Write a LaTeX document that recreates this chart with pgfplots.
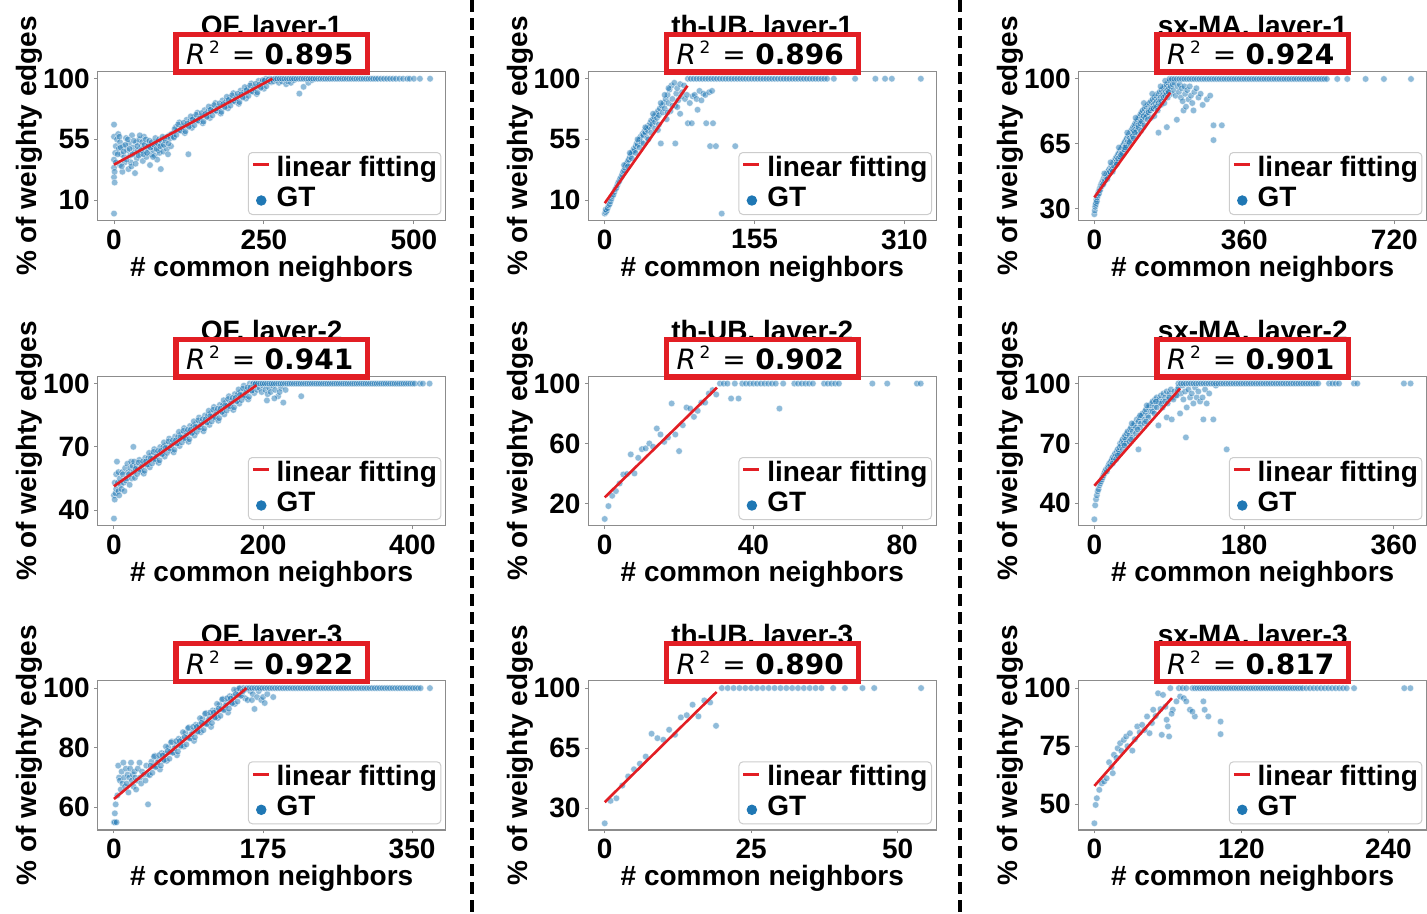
\documentclass[border=0pt]{standalone}
\usepackage{fontspec}
\setmainfont{Liberation Sans}
\newfontfamily\djv{DejaVu Sans}
\usepackage{pgfplots}
\pgfplotsset{compat=1.18}
\definecolor{tabblue}{RGB}{31,119,180}
\definecolor{fitred}{RGB}{226,30,36}
\newcommand{\bigbf}{\bfseries\fontsize{28}{32}\selectfont}
\newcommand{\rsq}[1]{{\itshape R}\kern3.5pt\raisebox{11pt}{\fontsize{17}{20}\selectfont 2}\kern12pt=\kern9.4pt{\bfseries #1}}
\pgfplotsset{
  panel/.style={
    clip marker paths=true,
    scale only axis, width=348pt, height=149.5pt, anchor=south west,
    axis line style={draw=black!45, line width=1.2pt},
    tick align=outside, major tick length=3.3pt, tick pos=left,
    tick style={draw=black!45, line width=1pt},
    tick label style={font=\bigbf},
    /pgf/number format/assume math mode=true,
    every x tick label/.append style={inner sep=0pt, yshift=-5.5pt},
    every y tick label/.append style={inner sep=0pt, xshift=-4.4pt},
    xlabel={\# common neighbors}, ylabel={\% of weighty edges},
    every axis x label/.style={at={(axis description cs:0.5,-0.37)}, anchor=base, inner sep=0pt, font=\bigbf},
    every axis y label/.style={at={(axis description cs:-0.1753,0.5)}, rotate=90, anchor=base, inner sep=0pt, font=\bigbf},
    legend style={at={(rel axis cs:1,0)}, anchor=south east, xshift=-4.3pt, yshift=5.7pt,
      draw=black!20, line width=1pt, rounded corners=4pt, fill=white,
      font=\bigbf, inner xsep=3pt, inner ysep=1pt,
      nodes={inner sep=1pt, text height=22pt, text depth=6pt},
      cells={anchor=base west}, row sep=0pt, column sep=5.5pt},
  },
  gt/.style={only marks, mark=*, mark size=3.3pt,
    mark options={fill=tabblue, fill opacity=0.5, draw=white, draw opacity=0.7, line width=0.4pt},
    legend image code/.code={\fill[tabblue] (8.5pt,6pt) circle (4.7pt); \path (0pt,0pt) (16pt,0pt);}},
  fit/.style={draw=fitred, line width=2.6pt, no marks,
    legend image code/.code={\draw[fitred, line width=2.8pt, sharp corners] (0pt,11.7pt) -- (16pt,11.7pt);}},
}
\newcommand{\decor}[3]{%
  \node[font=\bigbf, anchor=base] at ([yshift=36pt]#1.north) {#2};
  \node[draw=fitred, line width=5.3pt, fill=white, minimum width=191.7pt, minimum height=37.7pt, inner sep=0pt] (#1box) at ([yshift=18pt]#1.north) {};
  \node[anchor=base, font=\djv\fontsize{28}{32}\selectfont] at ([xshift=-2pt,yshift=-11.5pt]#1box.center) {\rsq{#3}};
}
\newcommand{\leg}{\addlegendimage{fit}\addlegendentry{linear fitting}\addlegendimage{gt}\addlegendentry{GT}}
\begin{document}
\begin{tikzpicture}
\useasboundingbox (0pt,0pt) rectangle (1427pt,-913pt);
% ---------------- Panel 1: OF layer-1
\begin{axis}[panel, name=a1, at={(97.7pt,-220.7pt)},
  xmin=-27.2, xmax=553, ymin=-5.3, ymax=105.6, xtick={0,250,500}, ytick={10,55,100}]
\leg
\addplot[gt, forget plot] coordinates {
(0,66) (0,57) (0,40) (0,27) (1,23) (0,0) (0,34) (2,45) (3,50) (1,31)
(5,55) (7,59) (8,48) (10,53) (10,36) (12,44) (14,31) (15,50) (17,42) (18,38) (20,56) (22,47) (24,33) (25,52) (27,43) (28,38) (30,58) (32,49) (34,45) (35,30) (37,53) (38,41) (40,47)
(42,55) (44,44) (46,50) (48,39) (50,57) (52,46) (54,42) (56,52) (58,48) (60,36) (62,44) (64,50) (66,47) (68,43) (70,53) (72,40) (74,47) (76,45) (78,33) (80,50) (82,46) (85,56) (88,48) (90,44) (92,58) (95,50) (98,59)
(3,38) (6,44) (9,57) (11,49) (13,35) (16,46) (19,51) (21,40) (23,55) (26,48) (29,35) (31,44) (33,54) (36,37) (39,50) (41,43) (43,58) (45,47) (47,53) (49,44) (51,51) (53,55) (55,45) (57,50) (59,54) (61,49) (63,53) (65,42) (67,51) (69,56) (71,48) (73,52) (75,55) (77,50) (79,54) (81,57) (83,51) (86,54) (89,57) (91,52) (94,56) (96,59) (99,57)
(100,56.4) (103,64.1) (106,61.8) (109,67.6) (112,61.3) (115,65.0) (118,59.7) (121,69.5) (124,65.2) (127,68.9)
(130,63.6) (133,71.4) (136,69.1) (139,74.8) (142,68.5) (145,72.2) (148,67.0) (151,76.7) (154,72.4) (157,76.1)
(160,70.9) (163,78.6) (166,76.3) (169,82.0) (172,75.8) (175,79.5) (178,74.2) (181,83.9) (184,79.6) (187,83.4)
(190,78.1) (193,85.8) (196,83.5) (199,89.3) (202,83.0) (205,86.7) (208,81.4) (211,91.2) (214,86.9) (217,90.6)
(220,85.3) (223,93.0) (226,90.8) (229,96.5) (232,90.2) (235,93.9) (238,88.7) (241,98.4) (244,94.1) (247,97.8)
(250,92.6) (253,100) (256,98.0) (259,100) (262,97.4)
(101,62.6) (104,58.4) (107,66.1) (110,61.8) (113,63.5) (116,67.3) (119,61.0) (122,66.7) (125,64.4) (128,72.1)
(131,69.9) (134,65.6) (137,73.3) (140,69.0) (143,70.8) (146,74.5) (149,68.2) (152,73.9) (155,71.7) (158,79.4)
(161,77.1) (164,72.8) (167,80.5) (170,76.3) (173,78.0) (176,81.7) (179,75.4) (182,81.2) (185,78.9) (188,86.6)
(191,84.3) (194,80.1) (197,87.8) (200,83.5) (203,85.2) (206,88.9) (209,82.7) (212,88.4) (215,86.1) (218,93.8)
(221,91.6) (224,87.3) (227,95.0) (230,90.7) (233,92.5) (236,96.2) (239,89.9) (242,95.6) (245,93.3) (248,99)
(251,98.8) (254,94.5) (257,99.2) (260,98) (263,99.7)
(124,44) (266,98) (270,99) (275,97) (280,98) (287,96) (290,98) (295,97) (300,99) (309,89) (316,94) (324,97) (330,99)
(268,100) (272,100) (276,100) (280,100) (284,100) (288,100) (292,100) (296,100) (300,100) (304,100) (308,100) (312,100) (316,100) (320,100) (324,100) (328,100) (332,100) (336,100) (340,100) (344,100) (348,100) (352,100) (356,100) (360,100) (364,100) (368,100) (372,100) (376,100) (380,100) (384,100) (388,100) (392,100) (396,100) (400,100) (404,100) (408,100) (412,100) (416,100) (420,100) (424,100) (428,100) (432,100) (436,100) (440,100) (445,100) (450,100) (455,100) (460,100) (465,100) (470,100) (476,100) (482,100) (489,100) (493,100) (500,100) (510,100) (527,100)
};
\addplot[fit, forget plot] coordinates {(0,36.3) (264,100)};
\end{axis}
\decor{a1}{OF, layer-1}{0.895}
% ---------------- Panel 2: th-UB layer-1
\begin{axis}[panel, name=a2, at={(588.3pt,-220.7pt)},
  xmin=-17, xmax=343, ymin=-5.3, ymax=105.6, xtick={0,155,310}, ytick={10,55,100}]
\leg
\addplot[gt, forget plot] coordinates {
(0,0) (1,1) (2,2) (1,3) (3,4) (4,6) (5,7) (6,9) (7,11) (8,13) (9,14) (10,16) (11,18) (12,19) (13,21) (14,23) (15,24) (16,26) (17,27) (18,29) (19,31) (20,32) (21,34) (22,36) (23,37) (24,39) (25,40) (26,42) (27,44) (28,45) (29,46) (30,48) (31,47) (32,50) (33,52) (34,51) (35,54) (36,55) (37,57) (38,53) (39,59) (40,58) (41,61) (42,60) (43,63) (44,62) (45,65) (46,64) (47,67) (48,69) (49,66) (50,70) (51,72) (52,68) (53,74) (54,71) (55,76) (56,73) (57,78) (58,52) (59,80) (60,75) (61,82) (62,78) (63,85) (64,70) (65,88) (66,82) (67,92) (68,76) (69,95) (70,85) (72,97) (73,80) (74,89) (75,93) (76,84) (78,96) (79,87) (80,90) (82,95) (83,85) (85,88) (86,67) (88,82) (90,67) (91,87) (93,88) (95,85) (96,77) (98,91) (100,84) (102,89) (104,88) (105,67) (108,90) (109,50) (111,91) (112,67) (115,50) (121,0) (135,50) (73,52) (78,74) (75,79)
(20,36) (24,35) (28,41) (32,45) (36,49) (40,52) (44,56) (48,60) (52,63) (56,66) (26,45) (34,55) (42,64) (50,74) (58,82) (62,88) (66,93) (45,55) (55,62) (65,75) (70,80)
(86,100) (89,100) (92,100) (95,100) (98,100) (101,100) (104,100) (107,100) (110,100) (113,100) (116,100) (119,100) (122,100) (125,100) (128,100) (131,100) (134,100) (137,100) (140,100) (143,100) (146,100) (149,100) (152,100) (155,100) (158,100) (161,100) (164,100) (167,100) (170,100) (173,100) (176,100) (179,100) (182,100) (185,100) (188,100) (191,100) (194,100) (197,100) (200,100) (203,100) (206,100) (209,100) (212,100) (215,100) (218,100) (221,100) (224,100) (227,100) (230,100) (237,100) (259,100) (280,100) (290,100) (297,100) (327,100)
};
\addplot[fit, forget plot] coordinates {(0,7.7) (85.6,94.8)};
\end{axis}
\decor{a2}{th-UB, layer-1}{0.896}
% ---------------- Panel 3: sx-MA layer-1
\begin{axis}[panel, name=a3, at={(1078.7pt,-220.7pt)},
  xmin=-37.5, xmax=797.7, ymin=23.5, ymax=104.2, xtick={0,360,720}, ytick={30,65,100}]
\leg
\addplot[gt, forget plot] coordinates {
(0,27) (1,29) (2,31) (3,32) (4,33) (5,35) (6,34) (7,36) (8,37) (9,38) (10,39) (11,38) (12,40) (13,41) (14,40) (15,42) (16,43) (17,42) (18,44) (19,43) (20,45) (22,46) (23,44) (24,47) (26,46) (27,48) (28,47) (30,49) (32,48) (33,50) (35,51) (36,49) (38,52) (40,51) (41,53) (43,54) (45,52) (46,55) (48,56) (50,54) (51,57) (53,58) (55,56) (56,59) (58,60) (60,58) (61,61) (63,62) (65,60) (66,63) (68,64) (70,62) (71,65) (73,66) (75,64) (76,67) (78,68) (80,66) (81,69) (83,70) (85,68) (86,71) (88,72) (90,70) (91,73) (93,74) (95,72) (96,75) (98,76) (100,73) (101,77) (103,78) (105,75) (106,79) (108,80) (110,77) (111,81) (113,82) (115,79) (116,83) (118,74) (120,84) (122,81) (124,85) (126,82) (128,86) (130,83) (132,87) (134,84) (136,88) (138,85) (140,89) (142,86) (144,90) (146,87) (148,91) (150,88) (152,92) (154,71) (155,89) (157,93) (159,90) (161,94) (163,91) (165,95) (167,92) (169,96) (171,93) (173,97) (174,74) (175,94) (177,98) (179,95) (181,99) (183,96) (185,92) (188,97) (190,94) (192,98) (195,91) (198,78) (200,96) (203,93) (205,97) (208,90) (210,95) (212,88) (214,83) (216,96) (218,92) (220,85) (223,94) (226,89) (229,96) (232,91) (235,87) (238,83) (240,93) (245,95) (250,90) (255,92) (260,86) (270,89) (278,91) (286,75) (286,67) (306,75)
(102,72) (106,74) (110,76) (114,77) (118,80) (122,79) (126,80) (130,82) (134,83) (138,84) (142,84) (146,85) (150,85) (154,87) (158,88) (162,88) (166,90) (170,91) (174,92) (178,93) (104,70) (112,72) (120,75) (128,78) (136,79) (144,80) (152,83) (160,86) (168,87) (176,90)
(21,43) (25,45) (29,47) (34,49) (37,50) (42,51) (47,53) (52,55) (57,57) (62,58) (67,60) (72,62) (77,64) (82,65) (87,67) (92,69) (97,71) (31,46) (44,50) (54,54) (64,59) (74,63) (84,66) (94,68)
(24,49) (39,55) (59,63) (79,71) (99,79) (119,87) (139,92) (159,96) (170,99)
(180,100) (186,100) (192,100) (198,100) (204,100) (210,100) (216,100) (222,100) (228,100) (234,100) (240,100) (246,100) (252,100) (258,100) (264,100) (270,100) (276,100) (282,100) (288,100) (294,100) (300,100) (306,100) (312,100) (318,100) (324,100) (330,100) (336,100) (342,100) (348,100) (354,100) (360,100) (366,100) (372,100) (378,100) (384,100) (390,100) (396,100) (402,100) (408,100) (414,100) (420,100) (426,100) (432,100) (438,100) (444,100) (450,100) (456,100) (462,100) (468,100) (474,100) (480,100) (486,100) (492,100) (498,100) (504,100) (510,100) (516,100) (522,100) (528,100) (534,100) (540,100) (546,100) (552,100) (558,100) (583,100) (607,100) (651,100) (695,100) (760,100)
};
\addplot[fit, forget plot] coordinates {(0,36.1) (182,92.6)};
\end{axis}
\decor{a3}{sx-MA, layer-1}{0.924}
% ---------------- Panel 4: OF layer-2
\begin{axis}[panel, name=a4, at={(97.7pt,-525.7pt)},
  xmin=-21.8, xmax=444.6, ymin=32.6, ymax=103.5, xtick={0,200,400}, ytick={40,70,100}]
\leg
\addplot[gt, forget plot] coordinates {
(0,36) (0,47) (1,45) (1,53) (2,48) (3,50) (3,57) (4,63) (5,53) (6,58) (6,49) (7,47) (8,55) (9,52) (10,50) (11,58) (12,57) (13,53) (14,49) (15,60) (16,54) (17,55) (18,62) (19,58) (20,57) (21,52) (22,60) (23,63) (24,55) (25,61) (26,70) (26,58) (27,63)
(28,55.3) (30,60.8) (32,59.3) (34,63.8) (36,58.3) (38,61.8) (40,57.3) (42,64.8) (44,61.3) (46,64.8)
(48,60.3) (50,65.9) (52,64.4) (54,68.9) (56,63.4) (58,66.9) (60,62.4) (62,69.9) (64,66.4) (66,69.9)
(68,65.4) (70,70.9) (72,69.4) (74,73.9) (76,68.4) (78,71.9) (80,67.4) (82,74.9) (84,71.4) (86,74.9)
(88,70.4) (90,75.9) (92,74.4) (94,78.9) (96,73.4) (98,76.9) (100,72.4) (102,79.9) (104,76.4) (106,79.9)
(108,75.4) (110,80.9) (112,79.4) (114,83.9) (116,78.4) (118,81.9) (120,77.4) (122,84.9) (124,81.4) (126,84.9)
(128,80.4) (130,85.9) (132,84.4) (134,88.9) (136,83.4) (138,86.9) (140,82.4) (142,89.9) (144,86.4) (146,89.9)
(148,85.4) (150,90.9) (152,89.5) (154,94) (156,88.5) (158,92) (160,87.5) (162,95) (164,91.5) (166,95)
(168,90.5) (170,96) (172,94.5) (174,99) (176,93.5) (178,97) (180,92.5) (182,100) (184,96.5) (186,100) (188,95.5) (190,100)
(29,59.6) (31,57.1) (33,62.6) (35,59.1) (37,60.55) (39,63.1) (41,58.6) (43,63.1) (45,61.6) (47,67.1)
(49,64.6) (51,62.1) (53,67.6) (55,64.1) (57,65.6) (59,68.1) (61,63.6) (63,68.1) (65,66.6) (67,72.1)
(69,69.6) (71,67.1) (73,72.6) (75,69.1) (77,70.6) (79,73.1) (81,68.6) (83,73.1) (85,71.6) (87,77.1)
(89,74.6) (91,72.1) (93,77.6) (95,74.1) (97,75.6) (99,78.1) (101,73.6) (103,78.1) (105,76.6) (107,82.1)
(109,79.6) (111,77.1) (113,82.6) (115,79.1) (117,80.6) (119,83.1) (121,78.6) (123,83.1) (125,81.6) (127,87.1)
(129,84.6) (131,82.1) (133,87.6) (135,84.1) (137,85.6) (139,88.1) (141,83.6) (143,88.1) (145,86.6) (147,92.1)
(149,89.7) (151,87.2) (153,92.7) (155,89.2) (157,90.7) (159,93.2) (161,88.7) (163,93.2) (165,91.7) (167,97.2)
(169,94.7) (171,92.2) (173,97.7) (175,94.2) (177,95.7) (179,98.2) (181,93.7) (183,98.2) (185,96.7) (187,100) (189,99.7)
(192,97) (195,98) (198,96) (200,99) (203,97) (206,95) (208,98) (210,96) (213,99) (216,97) (220,94) (224,98) (227,91) (230,97) (251,94) (205,92) (215,93) (222,96)
(190,100) (193,100) (196,100) (199,100) (202,100) (205,100) (208,100) (211,100) (214,100) (217,100) (220,100) (223,100) (226,100) (229,100) (232,100) (235,100) (238,100) (241,100) (244,100) (247,100) (250,100) (253,100) (256,100) (259,100) (262,100) (265,100) (268,100) (271,100) (274,100) (277,100) (280,100) (283,100) (286,100) (289,100) (292,100) (295,100) (298,100) (301,100) (304,100) (307,100) (310,100) (313,100) (316,100) (319,100) (322,100) (325,100) (328,100) (331,100) (334,100) (337,100) (340,100) (343,100) (346,100) (349,100) (352,100) (355,100) (358,100) (361,100) (364,100) (367,100) (370,100) (373,100) (376,100) (379,100) (382,100) (385,100) (388,100) (391,100) (394,100) (397,100) (400,100) (403,100) (410,100) (414,100) (423,100)
};
\addplot[fit, forget plot] coordinates {(0,51.3) (191,99.2)};
\end{axis}
\decor{a4}{OF, layer-2}{0.941}
% ---------------- Panel 5: th-UB layer-2
\begin{axis}[panel, name=a5, at={(588.3pt,-525.7pt)},
  xmin=-4.42, xmax=89.2, ymin=5.1, ymax=104.9, xtick={0,40,80}, ytick={20,60,100}]
\leg
\addplot[gt, forget plot] coordinates {
(0,9.6) (1,18.2) (2,25.1) (3,28.2) (4,33.3) (5,39.3) (6,39.6) (7,52.7) (8,40) (9,50.4) (10,56.2) (11,56.7) (12,60) (13,57.8) (14,70) (15,66) (16,61.1) (17,64) (18,86.7) (19,66) (20,54.9) (21,72.2) (22,84) (23,83.3) (24,77.8) (25,81.8) (26,87.3) (27,87.3) (28,93.3) (29,95.6) (30,92.7) (34,90) (36,90) (47,83.3)
(31,100) (32,100) (33,100) (35,100) (37,100) (38,100) (39,100) (40,100) (41,100) (42,100) (43,100) (44,100) (45,100) (46,100) (48,100) (51,100) (52,100) (53,100) (54,100) (55,100) (56,100) (59,100) (60,100) (61,100) (62,100) (63,100) (72,100) (76,100) (84,100) (85,100)
};
\addplot[fit, forget plot] coordinates {(0,24) (30.2,97.3)};
\end{axis}
\decor{a5}{th-UB, layer-2}{0.902}
% ---------------- Panel 6: sx-MA layer-2
\begin{axis}[panel, name=a6, at={(1078.7pt,-525.7pt)},
  xmin=-18.8, xmax=399.4, ymin=28.8, ymax=103.65, xtick={0,180,360}, ytick={40,70,100}]
\leg
\addplot[gt, forget plot] coordinates {
(0,32) (1,39) (2,42) (3,44) (4,46) (5,47) (6,49) (7,50) (8,51) (9,52) (10,53) (11,54) (12,55) (13,56) (14,57) (15,56) (16,58) (17,59) (18,60) (19,59) (20,61) (21,62) (22,63) (23,62) (24,64) (25,65) (26,64) (27,66) (28,67) (29,66) (30,68) (31,70) (32,69) (33,71) (34,72) (35,70) (36,73) (37,74) (38,72) (39,75) (40,76) (42,74) (43,77) (44,78) (46,76) (47,79) (48,80) (50,78) (51,82) (53,67) (53,81) (54,83) (56,80) (57,84) (58,85) (60,82) (61,86) (62,87) (64,84) (65,88) (66,89) (68,86) (69,90) (70,91) (72,88) (73,92) (75,93) (77,79) (77,90) (78,92) (80,94) (82,91) (83,95) (85,93) (87,83) (87,96) (89,92) (90,95) (92,97) (93,82) (94,93) (96,96) (98,94) (100,97) (101,98) (103,85) (104,95) (106,99) (107,92) (109,96) (110,73) (111,88) (113,97) (115,93) (117,95) (119,90) (121,98) (123,93) (125,96) (127,91) (130,93) (131,82) (133,97) (135,90) (138,95) (143,82) (146,99) (159,67)
(22,60) (26,62) (30,65) (34,67) (38,70) (42,71) (46,73) (50,75) (55,78) (60,80) (65,83) (70,86) (75,88) (80,90) (85,91) (90,93) (28,64) (36,69) (44,72) (52,77) (62,81) (72,85) (82,88) (88,90) (95,92) (99,94) (45,80) (55,84) (63,89) (74,91)
(101,100) (104,100) (107,100) (110,100) (113,100) (116,100) (119,100) (122,100) (125,100) (128,100) (131,100) (134,100) (137,100) (140,100) (143,100) (146,100) (149,100) (152,100) (155,100) (158,100) (161,100) (164,100) (167,100) (170,100) (173,100) (176,100) (179,100) (182,100) (185,100) (188,100) (191,100) (194,100) (197,100) (200,100) (203,100) (206,100) (209,100) (212,100) (215,100) (218,100) (221,100) (224,100) (227,100) (230,100) (233,100) (236,100) (239,100) (242,100) (245,100) (248,100) (251,100) (254,100) (257,100) (260,100) (263,100) (266,100) (269,100) (282,100) (286,100) (290,100) (294,100) (312,100) (316,100) (372,100) (380,100)
};
\addplot[fit, forget plot] coordinates {(0,48.8) (103,97.5)};
\end{axis}
\decor{a6}{sx-MA, layer-2}{0.901}
% ---------------- Panel 7: OF layer-3
\begin{axis}[panel, name=a7, at={(97.7pt,-830pt)},
  xmin=-19.1, xmax=389.5, ymin=52.4, ymax=102.55, xtick={0,175,350}, ytick={60,80,100}]
\leg
\addplot[gt, forget plot] coordinates {
(0,55) (1,55) (3,55) (1,58) (2,61) (4,64) (5,74) (6,70) (7,69) (8,66) (9,72) (10,68) (11,75) (12,70) (13,67) (14,73) (15,68) (16,71) (17,65) (18,70) (19,73) (20,75) (21,69) (22,71) (23,67) (24,72) (25,70) (26,66) (27,69) (28,73) (30,75) (31,70) (32,68) (33,72) (35,71) (37,69) (38,74) (40,61) (40,71)
(42,70.8) (44,75.3) (46,73.8) (48,77.3) (50,73.8) (52,76.2) (54,72.7) (56,78.2) (58,75.7) (60,78.1)
(62,75.6) (64,80.1) (66,78.6) (68,82.1) (70,78.5) (72,81.0) (74,77.5) (76,83.0) (78,80.4) (80,82.9)
(82,80.4) (84,84.9) (86,83.4) (88,86.8) (90,83.3) (92,85.8) (94,82.3) (96,87.7) (98,85.2) (100,87.7)
(102,85.2) (104,89.7) (106,88.1) (108,91.6) (110,88.1) (112,90.6) (114,87.0) (116,92.5) (118,90.0) (120,92.5)
(122,90.0) (124,94.4) (126,92.9) (128,96.4) (130,92.9) (132,95.3) (134,91.8) (136,97.3) (138,94.8) (140,97.3)
(142,94.7) (144,99.2) (146,97.7) (148,100) (150,97.7) (152,100) (154,96.6)
(43,74.0) (45,71.6) (47,77.0) (49,73.5) (51,75.0) (53,77.5) (55,74.0) (57,77.4) (59,75.9) (61,80.4)
(63,78.9) (65,76.3) (67,81.8) (69,78.3) (71,79.8) (73,82.2) (75,78.7) (77,82.2) (79,80.7) (81,85.2)
(83,83.6) (85,81.1) (87,86.6) (89,83.1) (91,84.5) (93,87.0) (95,83.5) (97,87.0) (99,85.5) (101,89.9)
(103,88.4) (105,85.9) (107,91.4) (109,87.9) (111,89.3) (113,91.8) (115,88.3) (117,91.8) (119,90.2) (121,94.7)
(123,93.2) (125,90.7) (127,96.2) (129,92.6) (131,94.1) (133,96.6) (135,93.1) (137,96.5) (139,95.0) (141,99.5)
(143,98.0) (145,95.5) (147,99.9) (149,97.4) (151,98.9) (153,99.4)
(157,96) (160,99) (162,96) (163,98) (165,93) (168,97) (170,99) (173,96) (175,97) (177,95) (180,98) (187,97)
(156,100) (159,100) (162,100) (165,100) (168,100) (171,100) (174,100) (177,100) (180,100) (183,100) (186,100) (189,100) (192,100) (195,100) (198,100) (201,100) (204,100) (207,100) (210,100) (213,100) (216,100) (219,100) (222,100) (225,100) (228,100) (231,100) (234,100) (237,100) (240,100) (243,100) (246,100) (249,100) (252,100) (255,100) (258,100) (261,100) (264,100) (267,100) (270,100) (273,100) (276,100) (279,100) (282,100) (285,100) (288,100) (291,100) (294,100) (297,100) (300,100) (303,100) (306,100) (309,100) (312,100) (315,100) (318,100) (321,100) (324,100) (327,100) (330,100) (333,100) (336,100) (339,100) (342,100) (345,100) (348,100) (351,100) (354,100) (357,100) (360,100) (371,100)
};
\addplot[fit, forget plot] coordinates {(0,62.8) (155.7,100)};
\end{axis}
\decor{a7}{OF, layer-3}{0.922}
% ---------------- Panel 8: th-UB layer-3
\begin{axis}[panel, name=a8, at={(588.3pt,-830pt)},
  xmin=-2.8, xmax=56.6, ymin=17.3, ymax=104.4, xtick={0,25,50}, ytick={30,65,100}]
\leg
\addplot[gt, forget plot] coordinates {
(0,21.2) (1,34.3) (2,35.8) (3,43.2) (4,48.5) (5,52.7) (6,55.9) (7,60.1) (8,73.4) (9,70.8) (10,69.9) (11,75.7) (12,72.8) (13,82.9) (14,84.2) (15,90.3) (16,83.5) (17,92.8) (18,91.6) (19,78)
(20,100) (21,100) (22,100) (23,100) (24,100) (25,100) (26,100) (27,100) (28,100) (29,100) (30,100) (31,100) (32,100) (33,100) (34,100) (35,100) (36,100) (37,100) (39,100) (41,100) (44,100) (46,100) (54,100)
};
\addplot[fit, forget plot] coordinates {(0,33.5) (19.1,97.7)};
\end{axis}
\decor{a8}{th-UB, layer-3}{0.890}
% ---------------- Panel 9: sx-MA layer-3
\begin{axis}[panel, name=a9, at={(1078.7pt,-830pt)},
  xmin=-12.8, xmax=271.3, ymin=38.9, ymax=103.3, xtick={0,120,240}, ytick={50,75,100}]
\leg
\addplot[gt, forget plot] coordinates {
(0,41.8) (1,49.7) (2,52.6) (4,56.2) (6,59) (8,59.8) (10,61.2) (12,68.1) (15,63.4) (16,71.3) (19,74.1) (21,76.3) (24,77.7) (26,79.2) (29,80.6) (31,73.1) (35,83.5) (39,84.2) (43,87.8) (45,80.6) (48,90.7) (52,97.8) (55,79.9) (56,97.1) (59,86.4) (60,83.5) (61,79.2) (64,90.7) (67,94.3) (70,96.4) (73,95.7) (75,94.3) (78,90.7) (82,87.8) (89,94.3) (90,90.7) (93,87.8) (103,85.6) (103,80.2) (80,89.9)
(14,66) (18,70) (22,73) (27,75) (33,78) (37,81) (41,82) (47,85) (50,88) (54,91) (58,92) (63,89)
(62,100) (69,100) (72,100) (75,100) (80,100) (82,100) (84,100) (86,100) (88,100) (90,100) (92,100) (94,100) (96,100) (98,100) (100,100) (102,100) (104,100) (106,100) (108,100) (110,100) (112,100) (114,100) (116,100) (118,100) (120,100) (122,100) (124,100) (126,100) (128,100) (130,100) (132,100) (134,100) (136,100) (138,100) (140,100) (142,100) (144,100) (146,100) (148,100) (150,100) (152,100) (154,100) (156,100) (158,100) (160,100) (162,100) (164,100) (166,100) (168,100) (170,100) (173,100) (176,100) (179,100) (182,100) (185,100) (188,100) (191,100) (194,100) (197,100) (200,100) (203,100) (206,100) (212,100) (253,100) (258,100)
};
\addplot[fit, forget plot] coordinates {(0,57.9) (63.3,95.7)};
\end{axis}
\decor{a9}{sx-MA, layer-3}{0.817}
% ---------------- separators
\draw[black, line width=4pt, dash pattern=on 12pt off 6pt] (472pt,0pt) -- (472pt,-913pt);
\draw[black, line width=4pt, dash pattern=on 12pt off 6pt] (959.5pt,0pt) -- (959.5pt,-913pt);
\end{tikzpicture}
\end{document}
